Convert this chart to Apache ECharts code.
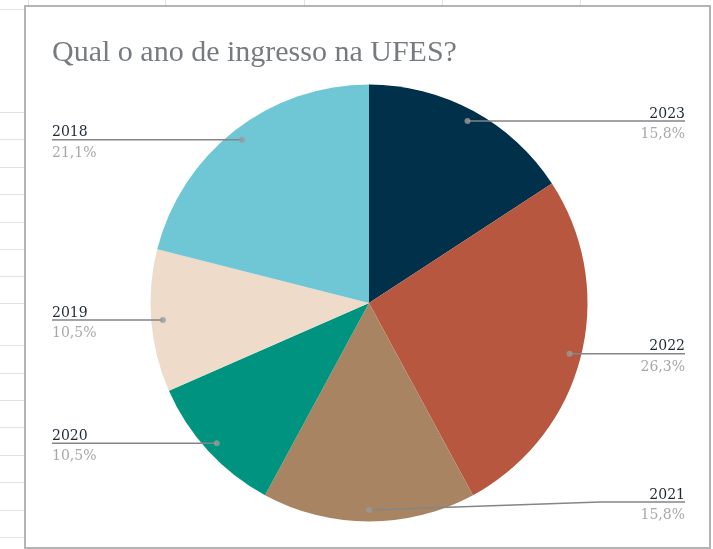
<!DOCTYPE html>
<html>
<head>
<meta charset="utf-8">
<script src="https://cdn.jsdelivr.net/npm/echarts@6/dist/echarts.min.js"></script>
<style>
html, body { margin: 0; padding: 0; background: #fff; }
#wrap { position: relative; width: 713px; height: 549px; overflow: hidden; }
.h { position: absolute; left: 0; width: 24px; height: 1px; background: #e2e2e2; }
.v { position: absolute; top: 0; height: 5px; width: 1px; background: #e2e2e2; }
#box { position: absolute; left: 24px; top: 5px; width: 683px; height: 540px; border: 2px solid #b4b4b4; background: #fff; }
#main { position: absolute; left: 0; top: 0; width: 713px; height: 549px; }
</style>
</head>
<body>
<div id="wrap">
  <!-- linhas da planilha atras do grafico -->
  <div class="h" style="top:9px"></div>
  <div class="h" style="top:112px"></div>
  <div class="h" style="top:139px"></div>
  <div class="h" style="top:167px"></div>
  <div class="h" style="top:194px"></div>
  <div class="h" style="top:222px"></div>
  <div class="h" style="top:249px"></div>
  <div class="h" style="top:276px"></div>
  <div class="h" style="top:303px"></div>
  <div class="h" style="top:345px"></div>
  <div class="h" style="top:373px"></div>
  <div class="h" style="top:400px"></div>
  <div class="h" style="top:427px"></div>
  <div class="h" style="top:455px"></div>
  <div class="h" style="top:482px"></div>
  <div class="h" style="top:510px"></div>
  <div class="h" style="top:537px"></div>
  <div class="v" style="left:28px"></div>
  <div class="v" style="left:165px"></div>
  <div class="v" style="left:304px"></div>
  <div class="v" style="left:442px"></div>
  <div class="v" style="left:580px"></div>
  <div id="box"></div>
  <div id="main"></div>
</div>
<script>
// dados do grafico
var categories = ['2023', '2022', '2021', '2020', '2019', '2018'];
var counts = [3, 5, 3, 2, 2, 4];
var sliceColors = ['#00304a', '#b8573f', '#a98462', '#009480', '#eedbca', '#6fc7d6'];
var chartTitle = 'Qual o ano de ingresso na UFES?';

var CX = 369, CY = 303, R = 218.5;
var DOT_R = 0.947;   // ponto da linha dentro da fatia

var total = counts.reduce(function (a, b) { return a + b; }, 0);

function pct(v) {
    return (v / total * 100).toFixed(1).replace('.', ',') + '%';
}

// meio de cada fatia, para as bolinhas
var dotData = [];
var acc = 0;
counts.forEach(function (v) {
    dotData.push([DOT_R, acc + v / 2]);
    acc += v;
});

var pieData = categories.map(function (c, i) {
    return { name: c, value: counts[i], itemStyle: { color: sliceColors[i] } };
});

var myChart = echarts.init(document.getElementById('main'));
var option = {
    animation: false,
    backgroundColor: 'transparent',
    title: {
        text: chartTitle,
        left: 52,
        top: 38,
        padding: 0,
        textStyle: {
            fontFamily: 'Liberation Serif',
            fontSize: 30,
            fontWeight: 'normal',
            color: '#777b80'
        }
    },
    polar: {
        center: [CX, CY],
        radius: R
    },
    angleAxis: {
        type: 'value',
        min: 0,
        max: total,
        startAngle: 90,
        clockwise: true,
        show: false
    },
    radiusAxis: {
        type: 'value',
        min: 0,
        max: 1,
        show: false
    },
    series: [
        // fatias
        {
            name: 'ano',
            type: 'pie',
            center: [CX, CY],
            radius: R,
            startAngle: 90,
            clockwise: true,
            z: 1,
            emphasis: { disabled: true },
            itemStyle: { borderWidth: 0 },
            label: { show: false },
            labelLine: { show: false },
            data: pieData
        },
        // rotulos por cima (pizza transparente)
        {
            name: 'rotulos',
            type: 'pie',
            center: [CX, CY],
            radius: R,
            startAngle: 90,
            clockwise: true,
            z: 3,
            silent: true,
            avoidLabelOverlap: false,
            emphasis: { disabled: true },
            itemStyle: { color: 'transparent', borderWidth: 0 },
            label: {
                show: true,
                position: 'outer',
                formatter: function (p) {
                    return '{n|' + p.name + '}\n{p|' + pct(p.value) + '}';
                },
                rich: {
                    n: {
                        fontFamily: 'DejaVu Serif',
                        fontSize: 14,
                        color: '#1d2935',
                        lineHeight: 27
                    },
                    p: {
                        fontFamily: 'DejaVu Serif',
                        fontSize: 14,
                        color: '#a8a8a8',
                        lineHeight: 14
                    }
                }
            },
            labelLine: {
                show: true,
                smooth: false,
                lineStyle: { color: '#858585', width: 1.5 }
            },
            labelLayout: function (p) {
                var pts = p.labelLinePoints;
                var x0 = pts[0][0], y0 = pts[0][1];
                var sx = CX + (x0 - CX) * DOT_R;
                var sy = CY + (y0 - CY) * DOT_R;
                var left = x0 < CX - 1;
                var ly = Math.min(sy, 502);
                var ex = left ? 52 : 685;
                var bx = left ? ex + 85 : ex - 85;
                return {
                    x: ex,
                    y: ly,
                    align: left ? 'left' : 'right',
                    verticalAlign: 'middle',
                    labelLinePoints: [[sx, sy], [bx, ly], [ex, ly]]
                };
            },
            data: categories.map(function (c, i) {
                return { name: c, value: counts[i] };
            })
        },
        {
            name: 'pontos',
            type: 'scatter',
            coordinateSystem: 'polar',
            symbol: 'circle',
            symbolSize: 6,
            silent: true,
            z: 5,
            itemStyle: { color: '#9a9a9a' },
            data: dotData
        }
    ]
};
myChart.setOption(option);
</script>
</body>
</html>
